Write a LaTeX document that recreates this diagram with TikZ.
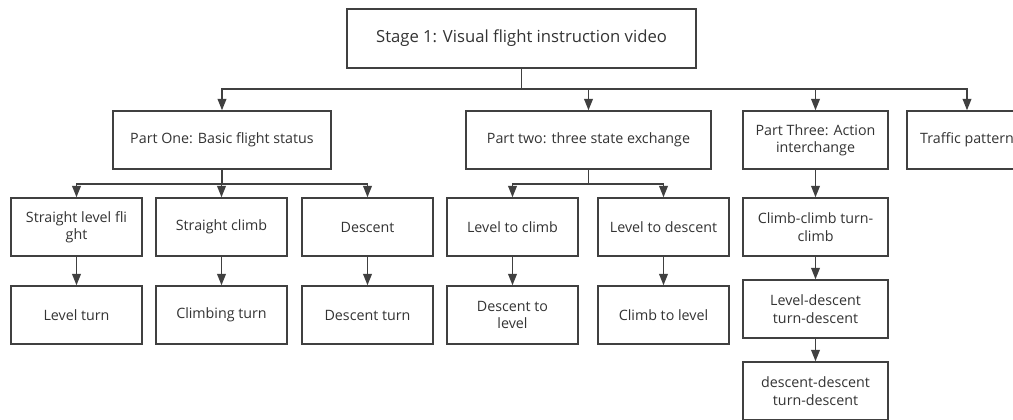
\documentclass[tikz,border=0pt]{standalone}
\usepackage{fontspec}
\setmainfont{Open Sans}
\usetikzlibrary{arrows.meta}
\definecolor{linegray}{HTML}{404040}
\definecolor{textgray}{HTML}{333333}

\begin{document}
\begin{tikzpicture}[x=0.75pt, y=-0.75pt,
    box/.style={draw=linegray, line width=1.1pt, text=textgray, align=center,
        font=\fontsize{10.7}{13}\selectfont, minimum height=43.5pt, inner sep=2pt},
    leaf/.style={box, minimum width=98.25pt},
    arr/.style={draw=linegray, line width=1.1pt, -{Triangle[width=6.5pt,length=8.5pt]}}]
    \useasboundingbox (0,0) rectangle (1013,420);

    % top
    \node[box, minimum width=261.75pt, minimum height=44.25pt, font=\fontsize{12.5}{15}\selectfont] (stage) at (521.5, 38.5) {Stage 1: Visual flight instruction video};

    % parts
    \node[box, minimum width=163.5pt] (part1) at (222, 140) {Part One: Basic flight status};
    \node[box, minimum width=183.75pt] (part2) at (588.5, 140) {Part two: three state exchange};
    \node[box, minimum width=108.75pt] (part3) at (815.5, 140) {Part Three: Action\\interchange};
    \node[box, minimum width=90pt] (traffic) at (967, 140) {Traffic pattern};

    % part one
    \node[leaf] (level) at (76.5, 227) {Straight level fli\\ght};
    \node[leaf] (climb) at (221.5, 227) {Straight climb};
    \node[leaf] (descent) at (367.5, 227) {Descent};
    \node[leaf] (levelturn) at (76.5, 315) {Level turn};
    \node[leaf] (climbturn) at (221.5, 315) {Climbing turn};
    \node[leaf] (descentturn) at (367.5, 315) {Descent turn};

    % part two
    \node[leaf] (lvlclimb) at (512.5, 227) {Level to climb};
    \node[leaf] (lvldescent) at (663.5, 227) {Level to descent};
    \node[leaf] (desclvl) at (512.5, 315) {Descent to\\level};
    \node[leaf] (climblvl) at (663.5, 315) {Climb to level};

    % part three
    \node[box, minimum width=108.75pt] (cct) at (815.5, 227) {Climb-climb turn-\\climb};
    \node[box, minimum width=108.75pt] (ldt) at (815.5, 309) {Level-descent\\turn-descent};
    \node[box, minimum width=108.75pt] (ddt) at (815.5, 391) {descent-descent\\turn-descent};

    \coordinate (bus0) at (521.5, 89);
    \coordinate (bus1) at (222, 184);
    \coordinate (bus2) at (588.5, 184);

    \draw[arr] (stage.south)--(bus0) -| (part1.north);
    \draw[arr] (stage.south)--(bus0) -| (part2.north);
    \draw[arr] (stage.south)--(bus0) -| (part3.north);
    \draw[arr] (stage.south)--(bus0) -| (traffic.north);

    \draw[arr] (part1.south)--(bus1) -| (level.north);
    \draw[arr] (part1.south)--(bus1) -| (climb.north);
    \draw[arr] (part1.south)--(bus1) -| (descent.north);
    \draw[arr] (level)--(levelturn);
    \draw[arr] (climb)--(climbturn);
    \draw[arr] (descent)--(descentturn);

    \draw[arr] (part2.south)--(bus2) -| (lvlclimb.north);
    \draw[arr] (part2.south)--(bus2) -| (lvldescent.north);
    \draw[arr] (lvlclimb)--(desclvl);
    \draw[arr] (lvldescent)--(climblvl);

    \draw[arr] (part3)--(cct);
    \draw[arr] (cct)--(ldt);
    \draw[arr] (ldt)--(ddt);
\end{tikzpicture}
\end{document}
